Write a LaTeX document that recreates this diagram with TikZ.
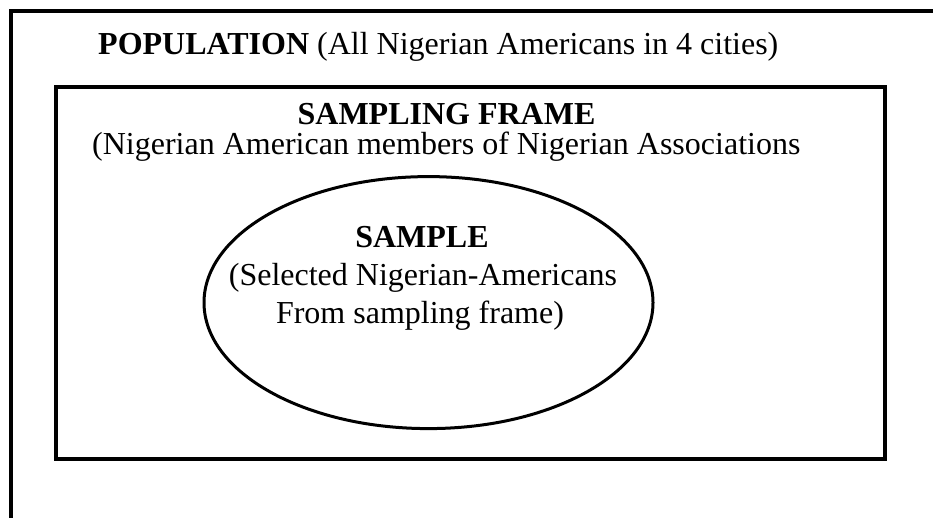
\documentclass[tikz,border=0pt]{standalone}
\usepackage{fontspec}
\setmainfont{Liberation Serif}
\usetikzlibrary{positioning,shapes.geometric}

\begin{document}
\begin{tikzpicture}[x=1pt,y=-1pt,
  frame/.style={draw,line width=4pt,outer sep=0pt,inner sep=0pt,anchor=north west},
  big/.style={font=\fontsize{32}{37.5}\selectfont,inner sep=0pt},
  head/.style={big,font=\fontsize{32}{37.5}\selectfont\bfseries}]

\clip (0,0) rectangle (933,518);

%% population, running past the page
\node[frame,minimum width=1000pt,minimum height=600pt] (pop) at (10.5,11.5) {};
\node[big,anchor=base west] (poptxt) at (98,55) {\textbf{POPULATION} (All Nigerian Americans in 4 cities)};

%% sampling frame
\node[frame,minimum width=829pt,minimum height=371.5pt] (frm) at (56,87.5) {};
\node[head,anchor=base] (frmhead) at (446.5,125) {SAMPLING FRAME};
\node[big,anchor=base west] (frmtxt) at (92,155) {(Nigerian American members of Nigerian Associations};

%% sample
\node[draw,ellipse,line width=3pt,inner sep=0pt,outer sep=0pt,minimum width=449pt,minimum height=252pt] (smp) at (428.5,302.6) {};
\node[head,anchor=base] (smphead) at (422,248) {SAMPLE};
\node[big,anchor=base] (smpline1) at (423,285.5) {(Selected Nigerian-Americans};
\node[big,anchor=base] (smpline2) at (420,323) {From sampling frame)};
\end{tikzpicture}
\end{document}
